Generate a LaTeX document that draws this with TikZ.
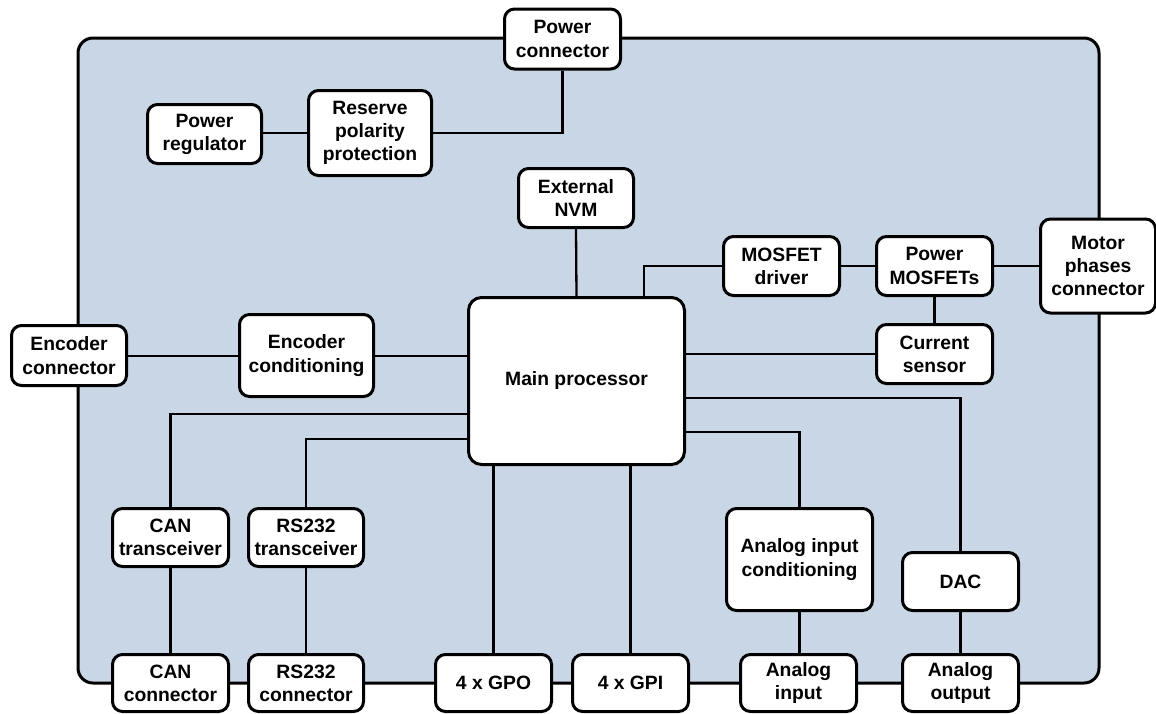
\documentclass[tikz,border=0pt]{standalone}
\usepackage{fontspec}
\setmainfont{Liberation Sans}
\definecolor{boardbg}{RGB}{201,214,229}
\begin{document}
\begin{tikzpicture}[x=1pt,y=-1pt,
  blk/.style={draw=black,line width=3pt,fill=white,rounded corners=10pt,
    align=center,inner sep=2pt,
    font=\fontsize{19.3}{23.2}\selectfont\bfseries},
  wire/.style={draw=black,line width=2.3pt}]
\useasboundingbox (0,0) rectangle (1156,713);
% board
\draw[line width=3pt,fill=boardbg,rounded corners=15pt] (78,38) rectangle (1099,683);
% nodes
\node[blk,minimum width=116pt,minimum height=60pt] (pc) at (562.5,39) {Power\\connector};
\node[blk,minimum width=114pt,minimum height=59pt] (preg) at (204.5,134) {Power\\regulator};
\node[blk,minimum width=123pt,minimum height=85pt] (rpp) at (370,133) {Reserve\\polarity\\protection};
\node[blk,minimum width=115pt,minimum height=59pt] (nvm) at (576,198) {External\\NVM};
\node[blk,minimum width=116pt,minimum height=59pt] (mdrv) at (781.5,266) {MOSFET\\driver};
\node[blk,minimum width=116pt,minimum height=59pt] (pmos) at (934.5,266) {Power\\MOSFETs};
\node[blk,minimum width=115pt,minimum height=94pt] (motor) at (1098,266) {Motor\\phases\\connector};
\node[blk,minimum width=115pt,minimum height=60pt] (encc) at (69,355.5) {Encoder\\connector};
\node[blk,minimum width=134pt,minimum height=82pt] (encd) at (306.5,355.5) {Encoder\\conditioning};
\node[blk,rounded corners=13pt,minimum width=216pt,minimum height=167pt] (main) at (576.5,381) {Main processor};
\node[blk,minimum width=116pt,minimum height=59pt] (cur) at (934.5,354) {Current\\sensor};
\node[blk,minimum width=116pt,minimum height=58pt] (cant) at (170.5,537.5) {CAN\\transceiver};
\node[blk,minimum width=115pt,minimum height=58pt] (rst) at (306,537.5) {RS232\\transceiver};
\node[blk,minimum width=146pt,minimum height=102pt] (aic) at (799.5,559.5) {Analog input\\conditioning};
\node[blk,minimum width=116pt,minimum height=58pt] (dac) at (960.5,581.5) {DAC};
\node[blk,minimum width=116pt,minimum height=57pt] (canc) at (170.5,683) {CAN\\connector};
\node[blk,minimum width=115pt,minimum height=57pt] (rsc) at (306,683) {RS232\\connector};
\node[blk,minimum width=116pt,minimum height=57pt] (gpo) at (493.5,683) {4 x GPO};
\node[blk,minimum width=116pt,minimum height=57pt] (gpi) at (630.5,683) {4 x GPI};
\node[blk,minimum width=116pt,minimum height=57pt] (ain) at (798.5,683) {Analog\\input};
\node[blk,minimum width=116pt,minimum height=57pt] (aout) at (960.5,683) {Analog\\output};
% helper coordinates
\coordinate (xmos) at (644,0);
\coordinate (xgpo) at (493.5,0);
\coordinate (xgpi) at (630.5,0);
\coordinate (ypwr) at (0,133);
\coordinate (yenc) at (0,356);
\coordinate (ycan) at (0,414);
\coordinate (yrs) at (0,439);
\coordinate (ycur) at (0,354);
\coordinate (ydac) at (0,398);
\coordinate (yaic) at (0,432);
% connectors
\draw[wire] (preg.east |- ypwr) -- (rpp.west |- ypwr);
\draw[wire] (rpp.east |- ypwr) -| (pc.south);
\draw[wire] (nvm.south) -- (main.north);
\draw[wire] (main.north -| xmos) |- (mdrv.west);
\draw[wire] (mdrv.east) -- (pmos.west);
\draw[wire] (pmos.east) -- (pmos.east -| motor.west);
\draw[wire] (pmos.south) -- (cur.north);
\draw[wire] (main.east |- ycur) -- (cur.west |- ycur);
\draw[wire] (main.east |- ydac) -| (dac.north);
\draw[wire] (main.east |- yaic) -| (aic.north);
\draw[wire] (encc.east |- yenc) -- (encd.west |- yenc);
\draw[wire] (encd.east |- yenc) -- (main.west |- yenc);
\draw[wire] (main.west |- ycan) -| (cant.north);
\draw[wire] (main.west |- yrs) -| (rst.north);
\draw[wire] (cant.south) -- (canc.north);
\draw[wire] (rst.south) -- (rsc.north);
\draw[wire] (main.south -| xgpo) -- (gpo.north);
\draw[wire] (main.south -| xgpi) -- (gpi.north);
\draw[wire] (aic.south) -- (aic.south |- ain.north);
\draw[wire] (dac.south) -- (aout.north);
\end{tikzpicture}
\end{document}
